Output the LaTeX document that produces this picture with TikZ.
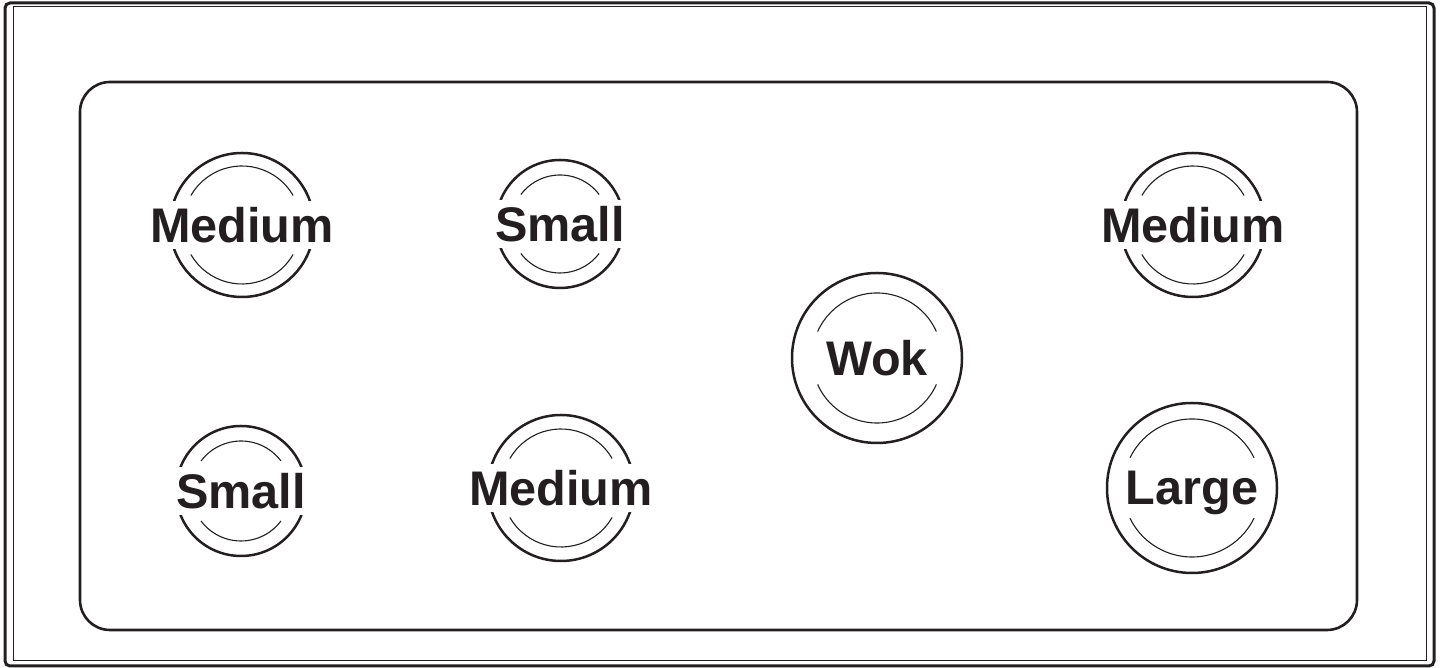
\documentclass[tikz,border=0pt]{standalone}
\usepackage{fontspec}
\setmainfont{Liberation Sans}
\usepackage{xcolor}
\definecolor{ink}{RGB}{35,31,32}

\begin{document}
\begin{tikzpicture}[x=0.5pt,y=0.5pt,
	ring/.style={ink,line width=1.25pt},
	fine/.style={ink,line width=0.55pt},
	tag/.style={fill=white,text=ink,inner xsep=3pt,inner ysep=3pt,text depth=0pt,
		font=\fontsize{24.3}{25}\selectfont\bfseries}]
	\useasboundingbox (0,0) rectangle (1442,668);

	\draw[ink,line width=1.5pt,rounded corners=2.5pt] (5,2) rectangle (1434,665);
	\draw[ink,line width=0.5pt] (13,7) rectangle (1426,661);
	\draw[ink,line width=1.3pt,rounded corners=15pt] (80,38) rectangle (1357,586);

	\coordinate (c1) at (242,443);
	\coordinate (c2) at (560,444);
	\coordinate (c3) at (1193,443);
	\coordinate (c4) at (877,310);
	\coordinate (c5) at (241,177);
	\coordinate (c6) at (561,180);
	\coordinate (c7) at (1192,180);

	\draw[ring] (c1) circle (72);
	\draw[fine] (c1) ++(30:59) arc (30:150:59) (c1) ++(210:59) arc (210:330:59);
	\node[tag] (medtl) at (c1) {Medium};

	\draw[ring] (c2) circle (64);
	\draw[fine] (c2) ++(37:49) arc (37:143:49) (c2) ++(217:49) arc (217:323:49);
	\node[tag] (smltl) at (c2) {Small};

	\draw[ring] (c3) circle (72);
	\draw[fine] (c3) ++(30:59) arc (30:150:59) (c3) ++(210:59) arc (210:330:59);
	\node[tag] (medtr) at (c3) {Medium};

	\draw[ring] (c4) circle (85);
	\draw[fine] (c4) ++(24:65) arc (24:156:65) (c4) ++(204:65) arc (204:336:65);
	\node[tag] (wok) at (c4) {Wok};

	\draw[ring] (c5) circle (65);
	\draw[fine] (c5) ++(37:50) arc (37:143:50) (c5) ++(217:50) arc (217:323:50);
	\node[tag] (smlbl) at (c5) {Small};

	\draw[ring] (c6) circle (73);
	\draw[fine] (c6) ++(30:59) arc (30:150:59) (c6) ++(210:59) arc (210:330:59);
	\node[tag] (medbl) at (c6) {Medium};

	\draw[ring] (c7) circle (85);
	\draw[fine] (c7) ++(26:69) arc (26:154:69) (c7) ++(206:69) arc (206:334:69);
	\node[tag] (large) at (c7) {Large};
\end{tikzpicture}
\end{document}
